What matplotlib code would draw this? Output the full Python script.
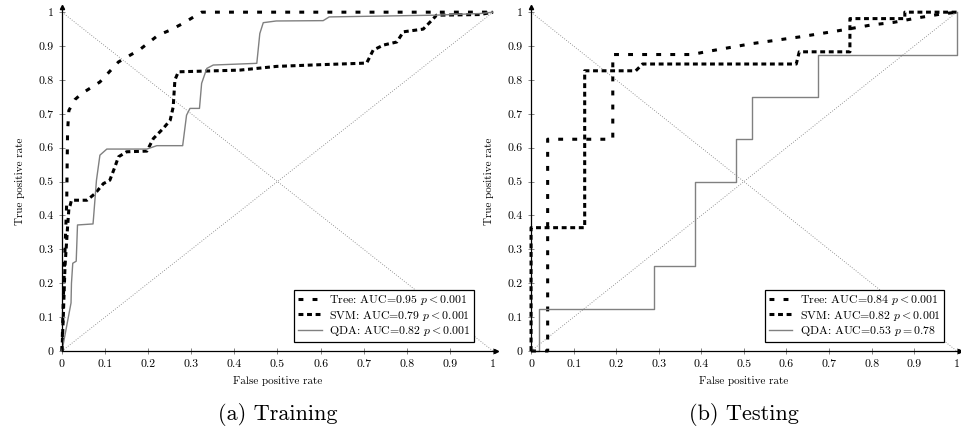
import numpy as np
import matplotlib.pyplot as plt

plt.rcParams['font.family'] = ['cmr10']
plt.rcParams['mathtext.fontset'] = 'cm'
plt.rcParams['axes.unicode_minus'] = False

# training ROC curves
train_tree_x = [0, 0.003, 0.007, 0.011, 0.012, 0.013, 0.016, 0.03, 0.046, 0.088, 0.131, 0.181, 0.223, 0.251, 0.278, 0.324, 1.0]
train_tree_y = [0, 0.15, 0.30, 0.44, 0.55, 0.65, 0.71, 0.742, 0.76, 0.794, 0.853, 0.89, 0.932, 0.947, 0.965, 1.0, 1.0]

train_svm_x = [0, 0.003, 0.007, 0.013, 0.016, 0.019, 0.022, 0.058, 0.077, 0.096, 0.111, 0.123, 0.131, 0.15, 0.197,
               0.212, 0.235, 0.251, 0.258, 0.262, 0.27, 0.413, 0.498, 0.60, 0.691, 0.707, 0.722, 0.746, 0.777,
               0.792, 0.838, 0.858, 0.869, 0.97, 1.0]
train_svm_y = [0, 0.10, 0.25, 0.367, 0.42, 0.43, 0.445, 0.445, 0.465, 0.494, 0.504, 0.544, 0.573, 0.588, 0.59,
               0.627, 0.657, 0.681, 0.72, 0.80, 0.824, 0.829, 0.84, 0.845, 0.849, 0.85, 0.888, 0.903, 0.912,
               0.942, 0.95, 0.976, 0.991, 0.993, 1.0]

train_qda_x = [0, 0.021, 0.022, 0.025, 0.033, 0.036, 0.072, 0.073, 0.08, 0.088, 0.104, 0.197, 0.22, 0.28, 0.289,
               0.297, 0.319, 0.324, 0.336, 0.351, 0.452, 0.459, 0.467, 0.497, 0.606, 0.62, 0.862, 0.97, 1.0]
train_qda_y = [0, 0.142, 0.20, 0.259, 0.265, 0.372, 0.375, 0.39, 0.504, 0.578, 0.596, 0.596, 0.606, 0.606, 0.696,
               0.716, 0.716, 0.79, 0.834, 0.844, 0.849, 0.937, 0.969, 0.974, 0.975, 0.986, 0.991, 0.996, 1.0]

# testing ROC curves
test_tree_x = [0, 0.039, 0.039, 0.192, 0.192, 0.378, 0.41, 0.518, 0.631, 0.716, 0.744, 0.798, 0.852, 0.907, 0.961, 1.0]
test_tree_y = [0, 0, 0.625, 0.625, 0.875, 0.875, 0.883, 0.907, 0.927, 0.944, 0.95, 0.962, 0.97, 0.983, 0.994, 1.0]

test_svm_x = [0, 0, 0.126, 0.126, 0.246, 0.262, 0.623, 0.63, 0.749, 0.749, 0.878, 0.878, 1.0]
test_svm_y = [0, 0.364, 0.364, 0.827, 0.827, 0.847, 0.847, 0.883, 0.883, 0.981, 0.981, 1.0, 1.0]

test_qda_x = [0, 0.019, 0.019, 0.289, 0.289, 0.386, 0.386, 0.482, 0.482, 0.52, 0.52, 0.675, 0.675, 1.0, 1.0]
test_qda_y = [0, 0, 0.125, 0.125, 0.25, 0.25, 0.5, 0.5, 0.625, 0.625, 0.75, 0.75, 0.875, 0.875, 1.0]

train_labels = [r'Tree: AUC=0.95 $p<0.001$', r'SVM: AUC=0.79 $p<0.001$', r'QDA: AUC=0.82 $p<0.001$']
test_labels = [r'Tree: AUC=0.84 $p<0.001$', r'SVM: AUC=0.82 $p<0.001$', r'QDA: AUC=0.53 $p=0.78$']

ticks = np.round(np.arange(0, 1.01, 0.1), 1)
tick_labels = ['0'] + ['%.1f' % t for t in ticks[1:-1]] + ['1']


def roc_panel(ax, tree, svm, qda, labels, caption, leg_x):
    # chance diagonals
    ax.plot([0, 1], [0, 1], color='#777777', lw=0.6, ls=(0, (1, 2.0)))
    ax.plot([0, 1], [1, 0], color='#777777', lw=0.6, ls=(0, (1, 2.0)))

    ax.plot(tree[0], tree[1], color='black', lw=2.2, ls=(0, (1.6, 3.0)), label=labels[0], clip_on=False)
    ax.plot(svm[0], svm[1], color='black', lw=2.2, ls=(0, (1.6, 1.2)), label=labels[1], clip_on=False)
    ax.plot(qda[0], qda[1], color='#808080', lw=1.0, label=labels[2], clip_on=False)

    ax.set_xlim(0, 1)
    ax.set_ylim(0, 1)
    ax.set_xticks(ticks)
    ax.set_yticks(ticks)
    ax.set_xticklabels(tick_labels)
    ax.set_yticklabels(tick_labels)
    ax.tick_params(direction='inout', length=4, width=0.5, color='#555555', labelsize=8.5, pad=4)
    ax.spines['top'].set_visible(False)
    ax.spines['right'].set_visible(False)
    ax.spines['left'].set_linewidth(0.9)
    ax.spines['bottom'].set_linewidth(0.9)
    ax.spines['left'].set_bounds(0, 1.015)
    ax.spines['bottom'].set_bounds(0, 1.008)
    # axis arrows
    ax.plot(1.008, 0, '>k', ms=3, clip_on=False)
    ax.plot(0, 1.015, '^k', ms=3, clip_on=False)

    ax.set_xlabel('False positive rate', fontsize=8, labelpad=5)
    ax.set_ylabel('True positive rate', fontsize=8, labelpad=10)

    leg = ax.legend(loc='lower right', bbox_to_anchor=(leg_x, 0.028), borderaxespad=0,
                    fontsize=8.5, fancybox=False, framealpha=1, edgecolor='black',
                    handlelength=2.0, handletextpad=0.6, labelspacing=0.12, borderpad=0.3)
    leg.get_frame().set_linewidth(0.9)

    ax.text(0.5, -0.205, caption, transform=ax.transAxes, ha='center', va='baseline', fontsize=16)


fig = plt.figure(figsize=(9.61, 4.30), dpi=100)
ax1 = fig.add_axes([0.0645, 0.1837, 0.4485, 0.788])
ax2 = fig.add_axes([0.5526, 0.1837, 0.4430, 0.788])

roc_panel(ax1, (train_tree_x, train_tree_y), (train_svm_x, train_svm_y), (train_qda_x, train_qda_y),
          train_labels, '(a) Training', 0.956)
roc_panel(ax2, (test_tree_x, test_tree_y), (test_svm_x, test_svm_y), (test_qda_x, test_qda_y),
          test_labels, '(b) Testing', 0.97)

fig.savefig('out.png', dpi=100)
